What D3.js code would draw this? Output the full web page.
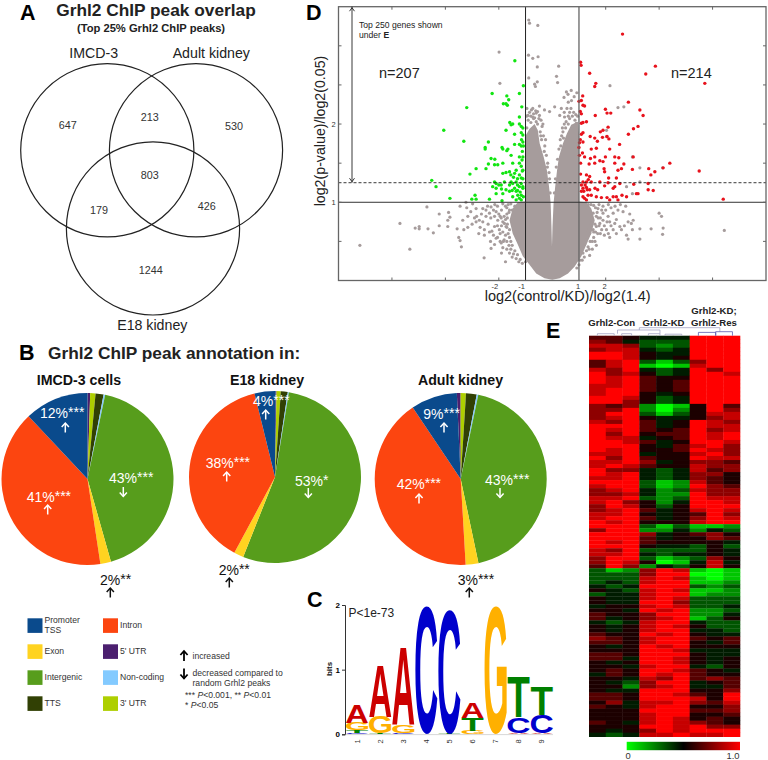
<!DOCTYPE html>
<html>
<head>
<meta charset="utf-8">
<script src="https://cdn.jsdelivr.net/npm/d3@7"></script>
<style>
  html, body { margin: 0; padding: 0; background: #fff; }
  svg { display: block; }
  text { font-family: "Liberation Sans", Arial, sans-serif; }
</style>
</head>
<body>
<svg id="fig" width="768" height="760"></svg>
<script>
// ---- A: venn ----
const vennSets = ["IMCD-3", "Adult kidney", "E18 kidney"];
const vennCounts = ["647", "213", "530", "803", "179", "426", "1244"];

// ---- B: pies ----
const pieKeys = ["5' UTR", "3' UTR", "TTS", "Non-coding", "Intergenic", "Exon", "Intron", "Promoter TSS"];
const imcdShares = [0.5, 1.0, 1.5, 0.3, 42.3, 2.0, 40.4, 12.0];
const e18Shares = [0.2, 0.8, 1.3, 0.2, 53.4, 1.8, 38.3, 3.9];
const adultShares = [0.7, 1.0, 2.0, 0.3, 43.4, 2.4, 41.5, 8.7];
const pieTitles = ["IMCD-3 cells", "E18 kidney", "Adult kidney"];

// ---- C: motif, bottom to top in each position ----
const motifPositions = [1, 2, 3, 4, 5, 6, 7, 8, 9];
const motifStacks = [
  [["C", 0.02], ["T", 0.04], ["G", 0.11], ["A", 0.27]],
  [["T", 0.01], ["G", 0.26], ["A", 0.80]],
  [["C", 0.02], ["G", 0.13], ["A", 1.20]],
  [["C", 1.98]],
  [["T", 0.01], ["C", 1.91]],
  [["G", 0.05], ["T", 0.20], ["A", 0.24]],
  [["G", 1.98]],
  [["A", 0.02], ["C", 0.24], ["T", 0.63]],
  [["A", 0.02], ["C", 0.28], ["T", 0.45]]
];

// ---- D: volcano, [log2(control/KD)/log2(1.4), log2(p)/log2(0.05)] ----
const xTickVals = [-6, -4, -2, -1, 1, 2, 4, 6];
const yTickVals = [0.5, 1, 1.5, 2, 2.5, 3];
const denseCore = [
  [-1.0, 1.85], [-0.85, 1.94], [-0.66, 2.0], [-0.54, 1.92], [-0.47, 1.75], [-0.32, 1.58], [-0.2, 1.41],
  [-0.12, 1.2], [-0.06, 0.99], [-0.03, 0.69], [-0.01, 0.43], [0.01, 0.69], [0.05, 0.99], [0.11, 1.2],
  [0.18, 1.41], [0.25, 1.58], [0.4, 1.75], [0.55, 1.88], [0.71, 1.99], [0.96, 2.03], [0.99, 1.88],
  [1.0, 1.01], [1.28, 1.0], [1.46, 0.92], [1.59, 0.77], [1.46, 0.6], [1.28, 0.46], [1.09, 0.31],
  [0.84, 0.18], [0.59, 0.09], [0.28, 0.03], [0, 0.01], [-0.29, 0.03], [-0.6, 0.09], [-0.85, 0.2],
  [-1.1, 0.31], [-1.29, 0.46], [-1.48, 0.6], [-1.6, 0.77], [-1.48, 0.92], [-1.29, 1.0], [-1.02, 1.01]
];
const greyGenes = [
  [-0.88, 3.33], [-0.85, 3.29], [-0.54, 3.26], [-1.99, 2.92], [-0.89, 2.88], [-0.73, 2.84], [-0.53, 2.86],
  [-0.56, 2.73], [0.24, 2.74], [-0.88, 2.59], [0.16, 2.61], [-0.56, 2.54], [-0.66, 2.51], [-0.63, 2.48],
  [0.2, 2.53], [-1.96, 2.52], [2.16, 2.49], [0.71, 2.43], [0.53, 2.41], [0.59, 2.38], [0.44, 2.34],
  [-0.48, 2.23], [-0.73, 2.2], [0.09, 2.22], [-0.29, 2.18], [-0.1, 2.16], [0.34, 2.2], [2.46, 2.21],
  [2.68, 2.22], [-0.6, 2.14], [-0.91, 2.11], [-0.73, 2.09], [-0.48, 2.11], [0.28, 2.11], [0.46, 2.09],
  [0.65, 2.07], [0.9, 2.01], [2.03, 1.84], [2.03, 1.92], [3.28, 1.44], [4.13, 1.44], [3.0, 1.58],
  [3.28, 1.26], [2.78, 1.2], [3.0, 1.11], [-0.95, 1.95], [-0.8, 2.02], [-0.7, 2.07], [-0.55, 2.0],
  [-0.45, 1.9], [0.5, 1.95], [0.6, 2.0], [0.4, 1.9], [0.75, 2.1], [0.85, 2.05], [0.3, 1.8], [-0.4, 1.8],
  [4.0, 0.86], [4.09, 0.82], [4.15, 0.67], [4.13, 0.59], [3.7, 0.66], [3.28, 0.66], [3.28, 0.53],
  [2.78, 0.58], [2.84, 0.53], [6.44, 0.64], [3.03, 0.77], [2.84, 0.75], [2.96, 0.73],
  [-7.2, 0.45], [-5.33, 0.4], [-4.69, 0.94], [-4.23, 0.85], [-3.88, 0.87], [-3.83, 0.81], [-3.91, 0.77],
  [-5.7, 0.73], [-5.13, 0.67], [-4.98, 0.69], [-4.98, 0.66], [-4.65, 0.66], [-4.23, 0.7], [-3.91, 0.69],
  [-4.45, 0.61], [-3.56, 0.66], [-3.5, 0.55], [-3.45, 0.51], [-3.4, 0.43], [-3.16, 0.68], [-3.31, 0.65],
  [-3.35, 0.77], [-3.16, 0.82], [-2.91, 0.8], [-2.83, 0.82], [-2.73, 0.77], [-2.85, 0.75], [-2.6, 0.75],
  [-2.48, 0.82], [-2.35, 0.86], [-2.54, 0.65], [-2.54, 0.58], [-2.75, 0.6], [-2.26, 0.63], [-2.31, 0.5],
  [-2.1, 0.54], [-2.29, 0.41], [-2.16, 0.46], [-2.55, 0.29], [-1.75, 0.24], [-1.91, 0.48], [-1.83, 0.5],
  [-3.23, 1.0], [-2.98, 0.98], [-2.85, 0.92], [-2.6, 0.92], [-2.29, 0.94], [-2.48, 0.9], [-2.16, 0.82],
  [-2.04, 0.77], [-1.91, 0.8], [-1.79, 0.73], [-1.73, 0.69], [-2.16, 0.69], [-1.98, 0.65], [-1.6, 0.65],
  [-1.6, 0.9], [-1.75, 0.95], [-1.9, 0.9], [-2.0, 0.85], [-1.8, 0.82], [-1.7, 0.85], [-1.65, 0.6],
  [-1.55, 0.5], [-1.5, 0.45], [-1.4, 0.38], [-1.3, 0.33], [-1.2, 0.27], [-1.0, 0.24], [-1.7, 0.68],
  [-1.6, 0.55], [-1.4, 0.95], [1.28, 0.52], [1.4, 0.6], [1.53, 0.65], [1.65, 0.69], [1.78, 0.73],
  [1.9, 0.77], [2.09, 0.82], [2.28, 0.86], [2.46, 0.9], [2.65, 0.88], [2.15, 0.75], [2.34, 0.73],
  [2.03, 0.65], [2.28, 0.65], [2.53, 0.69], [2.59, 0.65], [1.9, 0.86], [1.71, 0.92], [1.53, 0.86],
  [1.65, 0.82], [1.46, 0.73], [1.28, 0.65], [1.34, 0.43], [1.15, 0.35], [1.03, 0.26], [1.21, 0.46],
  [1.9, 0.95], [2.1, 0.97], [1.75, 0.97], [2.2, 0.7], [1.85, 0.65], [1.7, 0.6], [1.55, 0.55],
  [2.4, 0.78], [1.6, 0.5],
  // upper lobes, inner edges
  [-0.95, 2.2], [-0.85, 2.15], [-0.78, 2.18], [-0.7, 2.13], [-0.62, 2.17], [-0.55, 2.16], [-0.42, 2.05],
  [-0.38, 1.97], [-0.33, 1.85], [-0.28, 1.72], [-0.22, 1.6], [-0.17, 1.5], [-0.12, 1.38], [-0.43, 1.85],
  [-0.5, 2.07], [-0.6, 2.03], [-0.9, 2.05], [-0.96, 2.1], [-0.8, 2.1], [-0.66, 2.08], [-0.35, 2.0],
  [-0.25, 1.8], [-0.3, 1.65], [-0.18, 1.45], [-0.1, 1.3], [-0.08, 1.12], [0.15, 1.45], [0.2, 1.55],
  [0.25, 1.68], [0.32, 1.72], [0.35, 1.85], [0.42, 1.82], [0.45, 2.0], [0.52, 2.03], [0.6, 2.1],
  [0.65, 2.15], [0.7, 2.2], [0.8, 2.15], [0.88, 2.12], [0.95, 2.1], [0.55, 2.2], [0.45, 2.15],
  [0.12, 1.3], [0.08, 1.12], [0.38, 1.95], [0.72, 2.3], [0.6, 2.28], [0.82, 2.35], [0.92, 2.4],
  // lower wings
  [-1.55, 0.98], [-1.65, 0.97], [-1.85, 0.98], [-2.05, 0.95], [-2.15, 0.97], [-2.2, 0.9], [-2.1, 0.88],
  [-1.95, 0.82], [-1.85, 0.75], [-1.75, 0.78], [-1.68, 0.72], [-1.9, 0.7], [-2.05, 0.7], [-1.95, 0.6],
  [-1.85, 0.62], [-1.75, 0.58], [-1.8, 0.52], [-1.7, 0.5], [-1.62, 0.45], [-1.55, 0.4], [-1.45, 0.34],
  [-1.35, 0.28], [-1.25, 0.24], [-1.12, 0.22], [-1.7, 0.93], [-1.5, 0.9], [-1.62, 0.87], [-1.68, 0.8],
  [-2.3, 0.8], [-2.4, 0.72], [-2.35, 0.62], [-2.2, 0.58], [-2.05, 0.55], [-1.95, 0.5], [-1.85, 0.42],
  [-1.7, 0.4], [-1.6, 0.35], [-1.5, 0.3], [-1.9, 0.35], [-2.65, 0.85], [-2.7, 0.68], [-3.0, 0.72],
  [-3.05, 0.88], [-3.2, 0.93], [-3.45, 0.95], [-2.42, 0.95], [1.35, 0.97], [1.45, 0.97], [1.55, 0.96],
  [1.62, 0.93], [1.68, 0.87], [1.72, 0.8], [1.8, 0.8], [1.75, 0.7], [1.62, 0.62], [1.55, 0.62],
  [1.5, 0.5], [1.42, 0.5], [1.38, 0.4], [1.28, 0.38], [1.2, 0.3], [1.12, 0.26], [1.0, 0.2], [0.92, 0.16],
  [1.6, 0.72], [1.85, 0.9], [2.0, 0.9], [2.2, 0.93], [2.35, 0.95], [2.55, 0.97], [2.75, 0.95], [2.9, 0.85],
  [1.95, 0.7], [2.05, 0.75], [1.8, 0.6], [1.95, 0.58], [2.1, 0.6], [2.4, 0.6], [2.7, 0.7], [3.0, 0.65],
  [1.65, 0.45], [1.5, 0.4], [1.4, 0.32], [2.15, 0.55]
];
const greenGenes = [
  [-1.4, 2.81], [-1.08, 2.49], [-2.25, 2.39], [-1.23, 2.39], [-1.7, 2.36], [-1.63, 2.31], [-1.83, 2.26],
  [-1.73, 2.26], [-1.68, 2.24], [-3.2, 2.21], [-1.14, 2.22], [-1.23, 2.09], [-4.06, 1.92], [-1.59, 2.02],
  [-1.54, 1.99], [-1.48, 2.0], [-1.23, 2.0], [-1.16, 1.97], [-1.16, 1.89], [-1.73, 1.92], [-1.41, 1.87],
  [-3.31, 1.78], [-2.39, 1.77], [-1.1, 1.86], [-1.1, 1.77], [-1.23, 1.74], [-1.16, 1.72], [-1.41, 1.74],
  [-2.51, 1.7], [-2.51, 1.68], [-1.88, 1.7], [-1.85, 1.68], [-1.66, 1.68], [-1.7, 1.66], [-1.54, 1.6],
  [-1.23, 1.58], [-1.1, 1.58], [-2.29, 1.56], [-2.15, 1.55], [-1.13, 1.54], [-2.39, 1.49], [-2.16, 1.48],
  [-2.04, 1.48], [-1.85, 1.5], [-1.48, 1.5], [-1.23, 1.5], [-1.16, 1.46], [-2.85, 1.43], [-3.08, 1.36],
  [-2.48, 1.43], [-1.1, 1.41], [-1.35, 1.41], [-1.6, 1.39], [-1.73, 1.38], [-1.85, 1.37], [-1.41, 1.37],
  [-1.23, 1.35], [-1.16, 1.31], [-4.51, 1.28], [-4.35, 1.2], [-2.16, 1.26], [-2.1, 1.24], [-2.23, 1.2],
  [-2.1, 1.18], [-1.91, 1.22], [-1.79, 1.26], [-1.54, 1.26], [-1.35, 1.26], [-1.16, 1.24], [-1.48, 1.24],
  [-1.23, 1.2], [-1.1, 1.18], [-1.41, 1.18], [-1.35, 1.14], [-1.73, 1.16], [-1.6, 1.14], [-1.85, 1.11],
  [-1.29, 1.09], [-1.16, 1.09], [-1.23, 1.05], [-1.16, 1.03], [-1.48, 1.07], [-1.35, 1.03], [-1.88, 1.02],
  [-2.35, 1.04], [-3.83, 1.05], [-3.01, 1.04], [-2.89, 1.09], [-2.85, 1.04], [-2.1, 1.11], [-1.08, 1.07],
  [-1.1, 1.2], [-1.2, 1.13], [-1.3, 1.15], [-1.1, 1.3], [-1.3, 1.22], [-1.5, 1.15], [-1.6, 1.22],
  [-1.9, 1.17], [-2.0, 1.22], [-1.12, 1.4], [-1.3, 1.3], [-1.45, 1.32], [-1.55, 1.35], [-1.12, 1.65],
  [-1.08, 1.72], [-1.15, 1.8], [-1.1, 1.95]
];
const redGenes = [
  [2.63, 3.15], [1.06, 2.79], [1.08, 2.75], [1.4, 2.65], [3.5, 2.64], [3.86, 2.74], [5.71, 2.52],
  [1.63, 2.52], [1.59, 2.48], [1.14, 2.36], [1.09, 2.3], [1.0, 2.29], [1.15, 2.24], [1.21, 2.23],
  [2.85, 2.28], [3.28, 2.18], [3.4, 2.11], [1.99, 2.19], [2.05, 2.14], [2.19, 2.14], [1.61, 2.11],
  [1.05, 2.16], [1.09, 2.13], [1.28, 2.03], [1.15, 2.02], [1.09, 2.01], [2.09, 1.96], [1.9, 1.92],
  [1.8, 1.9], [3.21, 1.97], [3.04, 1.94], [2.85, 1.87], [1.15, 1.89], [1.09, 1.87], [1.05, 1.8],
  [1.15, 1.77], [1.02, 1.76], [1.42, 1.84], [1.59, 1.82], [1.69, 1.78], [1.88, 1.83], [2.05, 1.84],
  [2.12, 1.81], [2.52, 1.74], [1.0, 1.7], [1.46, 1.68], [1.65, 1.69], [2.15, 1.68], [1.13, 1.63],
  [1.02, 1.6], [1.21, 1.58], [1.59, 1.58], [1.99, 1.58], [2.34, 1.58], [2.49, 1.57], [1.43, 1.56],
  [3.03, 1.58], [1.78, 1.53], [1.9, 1.52], [1.59, 1.5], [1.06, 1.5], [1.38, 1.49], [2.34, 1.5],
  [2.68, 1.49], [4.4, 1.5], [1.94, 1.43], [1.96, 1.39], [2.46, 1.41], [2.59, 1.43], [3.61, 1.43],
  [4.15, 1.44], [3.0, 1.42], [3.84, 1.39], [5.5, 1.4], [3.69, 1.35], [1.06, 1.36], [1.28, 1.35],
  [1.4, 1.33], [2.11, 1.31], [2.4, 1.31], [1.15, 1.26], [1.28, 1.26], [1.35, 1.29], [1.46, 1.26],
  [1.78, 1.26], [2.09, 1.25], [2.53, 1.24], [3.05, 1.23], [3.59, 1.24], [1.23, 1.22], [1.09, 1.22],
  [1.15, 1.18], [1.28, 1.19], [1.4, 1.16], [1.6, 1.18], [1.7, 1.16], [1.96, 1.21], [2.34, 1.2],
  [3.59, 1.16], [3.78, 1.15], [3.15, 1.11], [3.21, 1.11], [2.78, 1.07], [2.61, 1.09], [2.4, 1.07],
  [2.46, 1.03], [2.05, 1.06], [2.15, 1.03], [1.84, 1.06], [1.65, 1.07], [1.46, 1.09], [1.34, 1.09],
  [1.21, 1.05], [1.28, 1.03], [1.15, 1.07], [1.09, 1.14], [6.4, 1.04], [2.28, 1.18], [2.28, 1.07],
  [1.18, 1.14], [1.31, 1.16]
];

// ---- E: heatmap, 9 samples per row, digit 0-9 = 0 to 1.0 ----
const heatGroups = ["Grhl2-Con", "Grhl2-KD"];
const heatRows = [
  "665444999", "764333999", "887323999", "788434999", "998544999", "998545999", "689313799", "689101899",
  "879434979", "978534998", "989655999", "989656999", "889656999", "899656999", "899545999", "998534999",
  "997534999", "767201596", "779202597", "799313588", "789544578", "879645987", "999645988", "989656978",
  "979566989", "988456989", "998645998", "999546897", "989556987", "889455897", "979655988", "889745776",
  "898655877", "977434867", "989434775", "889434765", "999312865", "899312976", "789423877", "778422977",
  "889323988", "897524998", "798535999", "789645898", "889545697", "899645798", "989555899", "999313112",
  "799224243", "999745675", "999645576", "989655554", "999544353", "879333354", "889434454", "799312375",
  "798501484", "697243585", "312798101", "333799001", "333898101", "343899112", "434999323", "543898112",
  "344899122", "544898333", "544997333", "455898334", "554989223", "655799224", "645789135", "434899433",
  "545898533", "545899443", "655989544", "765899656", "665899546", "545989555", "555998444", "665999544",
  "664998545", "545998545", "554899435", "565998654", "465989655", "554879676", "543799456", "552789446",
  "544999557", "665998659", "665999859", "574889768", "654899557", "555999667", "555899556", "555898565",
  "654898765", "555998977", "545798999", "434889889"
];
const colorBarLabels = ["0", "1.0"];
// merges above the columns: from column, to column, height, foot at from, foot at to
const dendroLinks = [
  [0, 1, 2, 0, 0], [1.45, 2.04, 2, 0, 0], [1.2, 3.73, 5.7, 2, 2], [3.04, 3.73, 2, 0, 0],
  [4.03, 5.03, 1.5, 0, 0], [2.5, 7.3, 8, 5.7, 4], [6.02, 7.05, 3.3, 0, 0], [7.05, 8.05, 4, 0, 0]
];

const PIE_COLORS = {
  "Promoter TSS": "#0a4a8c", "Intron": "#fc4510", "Exon": "#ffd320", "5' UTR": "#4b1f6f",
  "Intergenic": "#579d1c", "Non-coding": "#83caff", "TTS": "#314004", "3' UTR": "#aecf00"
};
const LOGO_COLORS = { A: "#cc0000", C: "#0000cc", G: "#ffb000", T: "#008000" };

const svg = d3.select("#fig");

function label(g, x, y, str, size, opts = {}) {
  return g.append("text")
    .attr("x", x).attr("y", y)
    .attr("font-size", size)
    .attr("font-weight", opts.bold ? "bold" : null)
    .attr("text-anchor", opts.anchor || "start")
    .attr("fill", opts.fill || "#111")
    .text(str);
}

// small up/down arrow, y0 is the top end and y1 the bottom end
function arrow(g, x, y0, y1, up, color, sw) {
  const tip = up ? y0 : y1;
  const dir = up ? 1 : -1;
  g.append("line").attr("x1", x).attr("x2", x).attr("y1", y0).attr("y2", y1)
    .attr("stroke", color).attr("stroke-width", sw);
  g.append("path")
    .attr("d", `M${x - 3.6},${tip + dir * 4}L${x},${tip}L${x + 3.6},${tip + dir * 4}`)
    .attr("fill", "none").attr("stroke", color).attr("stroke-width", sw);
}

/* =========================
   PANEL LETTERS
========================= */
const gLetters = svg.append("g");
label(gLetters, 20, 19.5, "A", 21.5, { bold: true, fill: "#000" });
label(gLetters, 19, 360, "B", 21.5, { bold: true, fill: "#000" });
label(gLetters, 307, 607, "C", 21.5, { bold: true, fill: "#000" });
label(gLetters, 306, 19.5, "D", 21.5, { bold: true, fill: "#000" });
label(gLetters, 546, 338, "E", 21.5, { bold: true, fill: "#000" });

/* =========================
   A: VENN
========================= */
const gVenn = svg.append("g");
label(gVenn, 156, 16, "Grhl2 ChIP peak overlap", 17.3, { bold: true, anchor: "middle", fill: "#222" });
label(gVenn, 151, 32, "(Top 25% Grhl2 ChIP peaks)", 11.2, { bold: true, anchor: "middle", fill: "#222" });

const vennR = 86.6;
const vennCentres = [[107.3, 150.3], [196, 150.3], [153, 228.4]];
gVenn.selectAll("circle").data(vennCentres).enter().append("circle")
  .attr("cx", d => d[0]).attr("cy", d => d[1]).attr("r", vennR)
  .attr("fill", "none").attr("stroke", "#222").attr("stroke-width", 1.2);

const vennSetPos = [[93.7, 58], [211.3, 58], [152.3, 330]];
vennSets.forEach((s, i) => label(gVenn, vennSetPos[i][0], vennSetPos[i][1], s, 14.2, { anchor: "middle", fill: "#222" }));

const vennCountPos = [[67.7, 128.5], [149.7, 121], [234, 130], [149.7, 178.5], [99, 213.5], [206.7, 210], [150.7, 273.5]];
vennCounts.forEach((s, i) => label(gVenn, vennCountPos[i][0], vennCountPos[i][1], s, 10.8, { anchor: "middle", fill: "#333" }));

/* =========================
   B: PIES
========================= */
const gPies = svg.append("g");
label(gPies, 48, 359, "Grhl2 ChIP peak annotation in:", 17.3, { bold: true, fill: "#222" });

const pieR = 86;
const pieSpecs = [
  { values: imcdShares, cx: 87.5, cy: 479, rot: 0, titleX: 79 },
  { values: e18Shares, cx: 275, cy: 477, rot: 0.005, titleX: 267 },
  { values: adultShares, cx: 460.7, cy: 479, rot: -0.045, titleX: 460.5 }
];
const arcGen = d3.arc().innerRadius(0).outerRadius(pieR);

pieSpecs.forEach((spec, i) => {
  const pie = d3.pie().sort(null).startAngle(spec.rot).endAngle(spec.rot + 2 * Math.PI);
  const g = gPies.append("g").attr("transform", `translate(${spec.cx},${spec.cy})`);
  g.selectAll("path")
    .data(pie(spec.values))
    .enter().append("path")
    .attr("d", arcGen)
    .attr("fill", (d, j) => PIE_COLORS[pieKeys[j]]);
  label(gPies, spec.titleX, 385, pieTitles[i], 14.2, { bold: true, anchor: "middle", fill: "#111" });
});

// percent notes: text, stars, x, baseline, arrow x, arrow top, up, colour
const pieNotes = [
  ["12%", "***", 40, 418, 65.3, 423, true, "#fff"],
  ["43%", "***", 109, 482.5, 123.3, 487, false, "#fff"],
  ["41%", "***", 26.7, 501.5, 47.7, 505, true, "#fff"],
  ["2%", "**", 100, 584.5, 110.3, 588, true, "#111"],
  ["4%", "***", 253, 406, 265.7, 410, true, "#fff"],
  ["38%", "***", 205.7, 467.5, 226.7, 472, true, "#fff"],
  ["2%", "**", 218.7, 574.5, 229.3, 578, true, "#111"],
  ["53%", "*", 295, 485.5, 308.3, 488, false, "#fff"],
  ["9%", "***", 423.3, 418.5, 444, 423, true, "#fff"],
  ["42%", "***", 396.7, 489, 419, 494, true, "#fff"],
  ["43%", "***", 485, 484.5, 500, 488, false, "#fff"],
  ["3%", "***", 457.7, 585, 469.3, 588, true, "#111"]
];
pieNotes.forEach(n => {
  const t = label(gPies, n[2], n[3], n[0], 14, { fill: n[7] });
  t.append("tspan").attr("dy", -1).text(n[1]);
  arrow(gPies, n[4], n[5], n[5] + 9.5, n[6], n[7], 1.5);
});

/* legend */
const gLegend = svg.append("g");
const legendCols = [
  [["Promoter TSS", "Promoter", "TSS"], ["Exon"], ["Intergenic"], ["TTS"]],
  [["Intron"], ["5' UTR"], ["Non-coding"], ["3' UTR"]]
];
const legendX = d3.scalePoint().domain([0, 1]).range([27.5, 103]);
const legendY = d3.scalePoint().domain([0, 1, 2, 3]).range([618.3, 696.3]);
legendCols.forEach((col, c) => {
  col.forEach((entry, r) => {
    gLegend.append("rect")
      .attr("x", legendX(c)).attr("y", legendY(r)).attr("width", 15).attr("height", 14.6)
      .attr("fill", PIE_COLORS[entry[0]]);
    if (entry.length === 3) {
      label(gLegend, legendX(c) + 17, legendY(r) + 5, entry[1], 8.6, { fill: "#333" });
      label(gLegend, legendX(c) + 17, legendY(r) + 15, entry[2], 8.6, { fill: "#333" });
    } else {
      const dyText = r === 0 ? 9.8 : 10;
      label(gLegend, legendX(c) + 17, legendY(r) + dyText, entry[0], 8.6, { fill: "#333" });
    }
  });
});

arrow(gLegend, 184, 651, 661, true, "#000", 1.8);
arrow(gLegend, 184, 668.5, 678.5, false, "#000", 1.8);
label(gLegend, 192.5, 658.7, "increased", 8.6, { fill: "#333" });
label(gLegend, 192.5, 675.7, "decreased compared to", 8.6, { fill: "#333" });
label(gLegend, 192.5, 685.7, "random Grhl2 peaks", 8.6, { fill: "#333" });
const pLine1 = label(gLegend, 185, 697.7, "*** ", 8.6, { fill: "#333" });
pLine1.append("tspan").attr("font-style", "italic").text("P");
pLine1.append("tspan").text("<0.001, ** ");
pLine1.append("tspan").attr("font-style", "italic").text("P");
pLine1.append("tspan").text("<0.01");
const pLine2 = label(gLegend, 185, 707.7, "* ", 8.6, { fill: "#333" });
pLine2.append("tspan").attr("font-style", "italic").text("P");
pLine2.append("tspan").text("<0.05");

/* =========================
   C: MOTIF LOGO
========================= */
const gLogo = svg.append("g");
const logoX = d3.scaleBand().domain(motifPositions).range([346, 553]).paddingInner(0.04);
const logoY = d3.scaleLinear().domain([0, 2]).range([734.3, 605]);
const measure = document.createElement("canvas").getContext("2d");
measure.font = "bold 100px 'Liberation Sans'";

motifStacks.forEach((stack, i) => {
  let sum = 0;
  stack.forEach(([ch, bits]) => {
    const m = measure.measureText(ch);
    const bottom = logoY(sum);
    const top = logoY(sum + bits);
    const sx = logoX.bandwidth() / (m.actualBoundingBoxLeft + m.actualBoundingBoxRight);
    const sy = (bottom - top) / (m.actualBoundingBoxAscent + m.actualBoundingBoxDescent);
    gLogo.append("text")
      .attr("font-size", 100).attr("font-weight", "bold")
      .attr("fill", LOGO_COLORS[ch])
      .attr("transform", `translate(${logoX(motifPositions[i]) + m.actualBoundingBoxLeft * sx},${bottom - m.actualBoundingBoxDescent * sy}) scale(${sx},${sy})`)
      .text(ch);
    sum += bits;
  });
});

const logoAxis = gLogo.append("g").attr("transform", "translate(345,0)")
  .call(d3.axisLeft(logoY).tickValues([0, 1, 2]).tickFormat(d3.format("d")).tickSize(3));
logoAxis.selectAll("text").attr("font-size", 8).attr("font-weight", "bold").attr("font-family", "Liberation Sans").attr("dx", 1);
logoAxis.selectAll("path,line").attr("stroke", "#333");
label(gLogo, 0, 0, "bits", 8, { bold: true, anchor: "middle" })
  .attr("transform", "translate(332,669) rotate(-90)");
motifPositions.forEach(p => {
  label(gLogo, 0, 0, p, 7.5, { anchor: "middle", fill: "#333" })
    .attr("transform", `translate(${logoX(p) + logoX.bandwidth() / 2 + 2.5},741.5) rotate(-90)`);
});
gLogo.append("line").attr("x1", 345).attr("x2", 553).attr("y1", 734.6).attr("y2", 734.6).attr("stroke", "#999").attr("stroke-width", 0.4);
label(gLogo, 348.5, 616.7, "P<1e-73", 12, { fill: "#222" });

/* =========================
   D: VOLCANO
========================= */
const gVolcano = svg.append("g");
const vx = d3.scaleLinear().domain([-8, 8]).range([338.5, 766]);
const vy = d3.scaleLinear().domain([0, 3.5]).range([280.5, 6.7]);

const coreLine = d3.line().x(d => vx(d[0])).y(d => vy(d[1])).curve(d3.curveLinearClosed);
gVolcano.append("path").attr("d", coreLine(denseCore)).attr("fill", "#a69c9c");

const dotLayers = [[greyGenes, "#a69c9c", 1.6], [greenGenes, "#11e511", 1.7], [redGenes, "#e8121c", 1.7]];
dotLayers.forEach(([rows, color, r]) => {
  gVolcano.append("g").selectAll("circle").data(rows).enter().append("circle")
    .attr("cx", d => vx(d[0])).attr("cy", d => vy(d[1])).attr("r", r).attr("fill", color);
});

// cut-off lines
gVolcano.append("line").attr("x1", vx(-1)).attr("x2", vx(-1)).attr("y1", vy(3.5)).attr("y2", vy(0)).attr("stroke", "#222").attr("stroke-width", 1);
gVolcano.append("line").attr("x1", vx(1)).attr("x2", vx(1)).attr("y1", vy(3.5)).attr("y2", vy(0)).attr("stroke", "#666").attr("stroke-width", 1.3);
gVolcano.append("line").attr("x1", vx(-8)).attr("x2", vx(8)).attr("y1", vy(1)).attr("y2", vy(1)).attr("stroke", "#333").attr("stroke-width", 1);
gVolcano.append("line").attr("x1", vx(-8)).attr("x2", vx(8)).attr("y1", vy(1.25)).attr("y2", vy(1.25)).attr("stroke", "#222").attr("stroke-width", 0.9).attr("stroke-dasharray", "3,2");

// frame and inward ticks
gVolcano.append("rect").attr("x", vx(-8)).attr("y", vy(3.5)).attr("width", vx(8) - vx(-8)).attr("height", vy(0) - vy(3.5))
  .attr("fill", "none").attr("stroke", "#666").attr("stroke-width", 1.3);
xTickVals.filter(v => Math.abs(v) !== 1).forEach(v => {
  [[vy(0), vy(0) - 3], [vy(3.5), vy(3.5) + 3]].forEach(e => {
    gVolcano.append("line").attr("x1", vx(v)).attr("x2", vx(v)).attr("y1", e[0]).attr("y2", e[1]).attr("stroke", "#666");
  });
});
yTickVals.forEach(v => {
  [[vx(-8), vx(-8) + 3], [vx(8), vx(8) - 3]].forEach(e => {
    gVolcano.append("line").attr("y1", vy(v)).attr("y2", vy(v)).attr("x1", e[0]).attr("x2", e[1]).attr("stroke", "#666");
  });
});
[-2, -1, 1, 2].forEach(v => label(gVolcano, vx(v) - (v < 0 ? 4 : 1), 288.5, v, 7.5, { anchor: "middle", fill: "#333" }));
[1, 2].forEach(v => label(gVolcano, 333.5, vy(v) + 3, v, 7.5, { anchor: "middle", fill: "#333" }));

// top 250 arrow
const topArrowX = 352;
gVolcano.append("line").attr("x1", topArrowX).attr("x2", topArrowX).attr("y1", vy(3.5)).attr("y2", vy(1.25)).attr("stroke", "#222").attr("stroke-width", 0.9);
[[vy(3.5) + 1, 1], [vy(1.25) - 1, -1]].forEach(([tip, dir]) => {
  gVolcano.append("path").attr("d", `M${topArrowX - 2.5},${tip + dir * 3.5}L${topArrowX},${tip}L${topArrowX + 2.5},${tip + dir * 3.5}`)
    .attr("fill", "none").attr("stroke", "#222").attr("stroke-width", 0.9);
});
label(gVolcano, 359, 27.5, "Top 250 genes shown", 8.6, { fill: "#222" });
const underE = label(gVolcano, 359, 37.5, "under ", 8.6, { fill: "#222" });
underE.append("tspan").attr("font-weight", "bold").text("E");
label(gVolcano, 379, 78, "n=207", 14.5, { fill: "#222" });
label(gVolcano, 671, 78, "n=214", 14.5, { fill: "#222" });
label(gVolcano, 567.7, 300.5, "log2(control/KD)/log2(1.4)", 14.5, { anchor: "middle", fill: "#222" });
label(gVolcano, 0, 0, "log2(p-value)/log2(0.05)", 14.2, { anchor: "middle", fill: "#222" })
  .attr("transform", "translate(325,131) rotate(-90)");

/* =========================
   E: HEATMAP
========================= */
const gHeat = svg.append("g");
const colIdx = d3.range(9);
const heatX = d3.scaleBand().domain(colIdx).range([589, 740]);
const heatY = d3.scaleBand().domain(d3.range(heatRows.length)).range([335.7, 736.7]);
const heatColor = d3.scaleLinear().domain([0, 0.5, 1]).range(["#00ff00", "#000000", "#ff0000"]);

heatRows.forEach((row, r) => {
  colIdx.forEach(c => {
    gHeat.append("rect")
      .attr("x", heatX(c)).attr("y", heatY(r))
      .attr("width", heatX.bandwidth() + 0.3).attr("height", heatY.bandwidth() + 0.3)
      .attr("fill", heatColor(+row[c] / 9));
  });
});

label(gHeat, 611.7, 326, heatGroups[0], 9.6, { bold: true, anchor: "middle", fill: "#222" });
label(gHeat, 663.5, 326, heatGroups[1], 9.6, { bold: true, anchor: "middle", fill: "#222" });
label(gHeat, 714, 314, "Grhl2-KD;", 9.6, { bold: true, anchor: "middle", fill: "#222" });
label(gHeat, 714, 326, "Grhl2-Res", 9.6, { bold: true, anchor: "middle", fill: "#222" });

const colCentre = c => heatX(0) + heatX.bandwidth() * (c + 0.5);
dendroLinks.forEach(([a, b, h, fa, fb]) => {
  const top = 335.7 - h;
  gHeat.append("path")
    .attr("d", `M${colCentre(a)},${335.7 - fa}V${top}H${colCentre(b)}V${335.7 - fb}`)
    .attr("fill", "none")
    .attr("stroke", a >= 6 ? "#5a5ab0" : "#a4a4c4")
    .attr("stroke-width", 0.8);
});

const defs = svg.append("defs");
const grad = defs.append("linearGradient").attr("id", "heatBar");
[0, 0.5, 1].forEach(v => grad.append("stop").attr("offset", v).attr("stop-color", heatColor(v)));
const barX = d3.scaleLinear().domain([0, 1]).range([626.7, 740]);
gHeat.append("rect").attr("x", barX(0)).attr("y", 741.8).attr("width", barX(1) - barX(0)).attr("height", 8.4).attr("fill", "url(#heatBar)");
label(gHeat, barX(0) + 1.5, 758.5, colorBarLabels[0], 9.4, { anchor: "middle", fill: "#333" });
label(gHeat, barX(1) - 7, 758.5, colorBarLabels[1], 9.4, { anchor: "middle", fill: "#333" });
</script>
</body>
</html>
